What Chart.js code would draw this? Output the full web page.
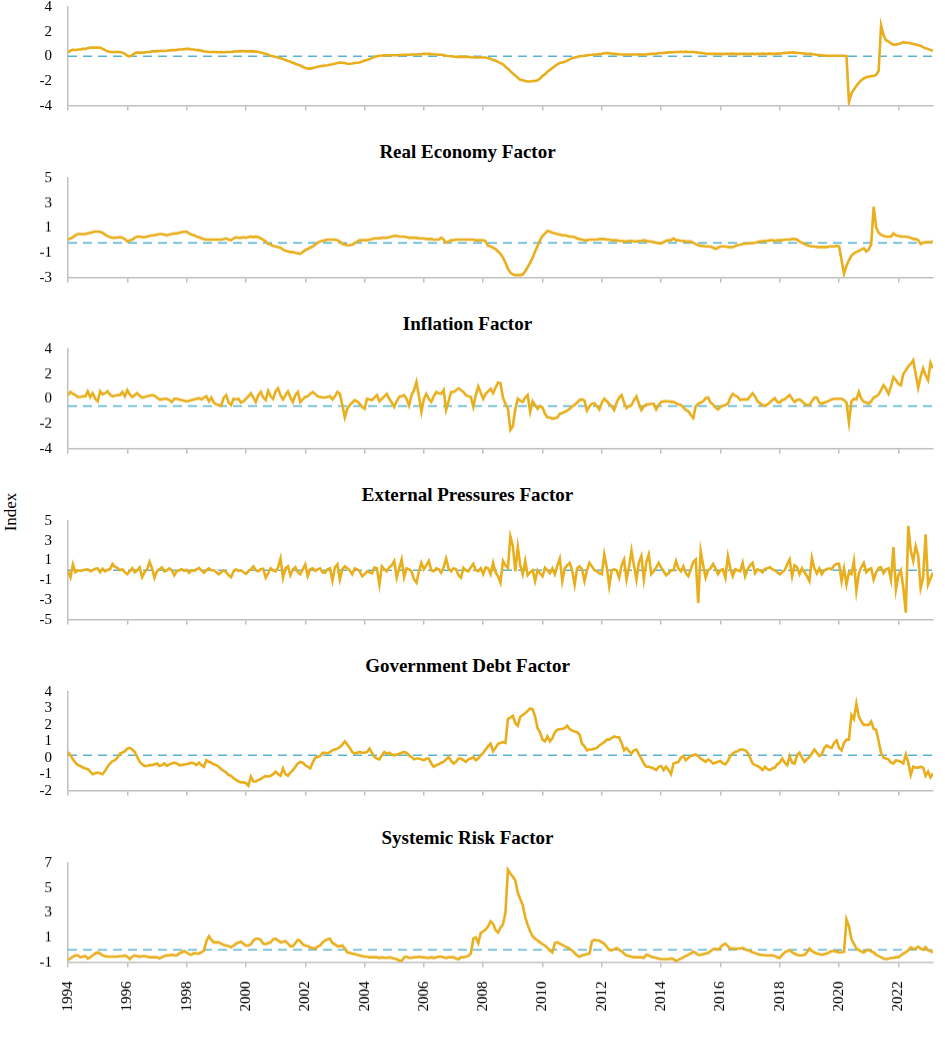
<!DOCTYPE html>
<html><head><meta charset="utf-8">
<script src="https://cdn.jsdelivr.net/npm/chart.js@4.4.1/dist/chart.umd.min.js"></script>
<style>
html,body{margin:0;padding:0;background:#fff;width:945px;height:1037px;overflow:hidden;position:relative;}
.panel{position:absolute;left:0;width:945px;}
.ptitle{position:absolute;left:0;width:935px;text-align:center;font:bold 19px "Liberation Serif","Times New Roman",serif;color:#000;line-height:22px;}
#ylab{position:absolute;left:11px;top:512px;transform:translate(-50%,-50%) rotate(-90deg);font:17px "Liberation Serif","Times New Roman",serif;color:#000;white-space:nowrap;}
</style></head><body>
<div id="ylab">Index</div>
<script>
const startYear = 1994;
const tickYears = [1994,1996,1998,2000,2002,2004,2006,2008,2010,2012,2014,2016,2018,2020,2022];
const panelTitles = ["", "Real Economy Factor", "Inflation Factor", "External Pressures Factor", "Government Debt Factor", "Systemic Risk Factor"];
const refLevels = [0, -0.22, -0.58, 0, 0.15, 0];
const yMin = [-4, -3, -4, -5, -2, -1];
const yMax = [4, 5, 4, 5, 4, 7];
const yStep = [2, 2, 2, 2, 1, 2];

const compositeIndex = [
0.35,0.45,0.55,0.5,0.55,0.55,0.6,0.6,0.65,0.7,0.7,0.7,
0.7,0.7,0.6,0.5,0.4,0.35,0.35,0.35,0.35,0.35,0.3,0.2,
0.05,0.0,0.1,0.25,0.3,0.3,0.3,0.3,0.35,0.35,0.4,0.4,
0.42,0.43,0.45,0.43,0.45,0.48,0.5,0.5,0.52,0.55,0.55,0.58,
0.6,0.6,0.55,0.55,0.5,0.5,0.45,0.4,0.38,0.35,0.35,0.35,
0.35,0.33,0.35,0.33,0.35,0.35,0.35,0.38,0.4,0.4,0.42,0.42,
0.4,0.4,0.42,0.4,0.38,0.35,0.3,0.25,0.2,0.12,0.05,0.0,
-0.05,-0.1,-0.15,-0.22,-0.3,-0.38,-0.45,-0.52,-0.6,-0.68,-0.75,-0.85,
-0.95,-1.0,-1.0,-0.95,-0.9,-0.85,-0.8,-0.78,-0.75,-0.72,-0.68,-0.65,
-0.6,-0.55,-0.5,-0.52,-0.55,-0.6,-0.6,-0.58,-0.55,-0.52,-0.5,-0.42,
-0.35,-0.3,-0.22,-0.15,-0.05,0.0,0.05,0.06,0.08,0.07,0.08,0.08,
0.08,0.08,0.1,0.1,0.12,0.12,0.13,0.15,0.15,0.15,0.17,0.18,
0.2,0.2,0.2,0.18,0.16,0.15,0.13,0.12,0.1,0.05,0.02,0.0,
-0.02,-0.05,-0.05,-0.05,-0.05,-0.05,-0.05,-0.08,-0.1,-0.1,-0.1,-0.1,
-0.1,-0.1,-0.15,-0.2,-0.3,-0.35,-0.45,-0.55,-0.65,-0.85,-1.0,-1.2,
-1.4,-1.55,-1.75,-1.9,-1.95,-2.0,-2.05,-2.05,-2.0,-2.0,-1.95,-1.8,
-1.6,-1.45,-1.25,-1.1,-0.95,-0.8,-0.65,-0.55,-0.5,-0.45,-0.35,-0.25,
-0.15,-0.1,-0.05,0.0,0.03,0.05,0.08,0.1,0.12,0.15,0.15,0.18,
0.2,0.25,0.27,0.25,0.22,0.2,0.18,0.16,0.15,0.15,0.15,0.15,
0.15,0.15,0.15,0.17,0.15,0.15,0.15,0.18,0.2,0.2,0.22,0.25,
0.27,0.28,0.3,0.32,0.32,0.33,0.35,0.35,0.36,0.35,0.38,0.35,
0.35,0.35,0.33,0.3,0.28,0.25,0.22,0.2,0.2,0.2,0.2,0.2,
0.2,0.18,0.2,0.2,0.2,0.22,0.2,0.18,0.2,0.2,0.2,0.18,
0.2,0.2,0.18,0.2,0.2,0.22,0.2,0.2,0.22,0.2,0.2,0.22,
0.22,0.25,0.28,0.28,0.3,0.3,0.3,0.28,0.27,0.25,0.22,0.2,
0.2,0.18,0.15,0.12,0.1,0.08,0.07,0.05,0.05,0.05,0.05,0.05,
0.05,0.05,0.05,0.02,-3.7,-3.0,-2.7,-2.4,-2.15,-1.95,-1.8,-1.7,
-1.65,-1.6,-1.6,-1.5,-1.2,2.5,1.7,1.3,1.2,1.05,0.95,0.95,
1.0,1.05,1.15,1.1,1.1,1.05,1.0,0.95,0.9,0.85,0.75,0.65,
0.6,0.5,0.45];

const realEconomy = [
0.05,0.15,0.25,0.4,0.5,0.5,0.5,0.5,0.55,0.6,0.65,0.7,
0.7,0.68,0.6,0.45,0.35,0.25,0.2,0.2,0.22,0.25,0.2,0.1,
-0.1,0.0,0.05,0.2,0.3,0.3,0.25,0.25,0.3,0.35,0.4,0.4,
0.45,0.5,0.5,0.45,0.4,0.45,0.5,0.55,0.55,0.6,0.65,0.68,
0.7,0.55,0.45,0.4,0.3,0.25,0.15,0.1,0.05,0.05,0.05,0.05,
0.05,0.05,0.05,0.1,0.15,0.05,0.0,0.15,0.25,0.2,0.2,0.25,
0.2,0.25,0.3,0.25,0.3,0.25,0.15,0.05,-0.1,-0.3,-0.35,-0.45,
-0.5,-0.55,-0.6,-0.75,-0.85,-0.9,-0.95,-0.95,-1.0,-1.05,-1.1,-0.95,
-0.8,-0.7,-0.6,-0.5,-0.35,-0.2,-0.1,-0.05,0.0,0.05,0.05,0.05,
0.05,0.0,-0.1,-0.3,-0.35,-0.4,-0.4,-0.35,-0.25,-0.1,0.0,0.0,
0.0,0.0,0.05,0.1,0.15,0.15,0.15,0.2,0.2,0.2,0.25,0.3,
0.35,0.35,0.3,0.3,0.3,0.25,0.2,0.2,0.2,0.2,0.15,0.15,
0.15,0.1,0.1,0.1,0.05,0.05,0.05,0.2,0.05,-0.2,-0.1,0.0,
0.0,0.05,0.05,0.05,0.05,0.05,0.05,0.05,0.05,0.0,0.0,0.0,
0.0,-0.1,-0.45,-0.5,-0.6,-0.7,-0.9,-1.1,-1.4,-1.8,-2.3,-2.6,
-2.75,-2.8,-2.8,-2.8,-2.75,-2.5,-2.15,-1.8,-1.4,-0.9,-0.45,0.0,
0.35,0.55,0.75,0.7,0.6,0.55,0.5,0.45,0.4,0.4,0.35,0.3,
0.3,0.25,0.15,0.1,0.05,0.0,0.0,0.05,0.05,0.05,0.05,0.1,
0.1,0.1,0.05,0.05,0.0,0.0,0.0,-0.05,-0.05,-0.1,-0.1,-0.05,
-0.05,-0.1,-0.1,-0.05,-0.05,0.0,-0.05,-0.1,-0.1,-0.15,-0.2,-0.25,
-0.25,-0.15,-0.05,0.0,0.0,0.15,0.0,0.0,-0.05,-0.05,-0.1,-0.1,
-0.1,-0.2,-0.3,-0.4,-0.45,-0.45,-0.5,-0.5,-0.5,-0.6,-0.7,-0.6,
-0.5,-0.5,-0.5,-0.55,-0.55,-0.55,-0.45,-0.4,-0.35,-0.3,-0.28,-0.25,
-0.25,-0.22,-0.2,-0.15,-0.1,-0.08,-0.05,-0.05,0.0,0.0,-0.05,0.0,
0.0,0.0,0.05,0.05,0.05,0.1,0.1,0.05,-0.1,-0.2,-0.3,-0.4,
-0.45,-0.5,-0.5,-0.55,-0.55,-0.55,-0.55,-0.55,-0.5,-0.5,-0.5,-0.45,
-0.5,-1.6,-2.7,-2.05,-1.6,-1.25,-1.05,-0.95,-0.85,-0.75,-0.65,-0.9,
-0.75,-0.3,2.7,1.05,0.6,0.45,0.35,0.3,0.3,0.3,0.55,0.4,
0.35,0.3,0.3,0.3,0.25,0.2,0.1,0.1,0.0,-0.3,-0.2,-0.15,
-0.15,-0.15,-0.1];

const inflation = [
0.3,0.55,0.4,0.3,0.15,0.15,0.2,0.2,0.6,0.15,0.45,0.0,
-0.2,0.6,0.35,0.45,0.6,0.35,0.2,0.25,0.3,0.3,0.55,0.2,
0.7,0.35,0.15,0.3,0.45,0.25,0.1,0.15,0.2,0.25,0.3,0.25,
0.1,-0.05,-0.05,0.0,0.0,-0.1,-0.25,0.0,0.0,-0.05,-0.1,-0.15,
-0.2,-0.15,-0.1,-0.05,0.0,0.05,-0.05,0.1,0.2,-0.2,0.1,-0.3,
-0.45,-0.5,-0.55,0.1,0.3,-0.3,-0.5,0.0,-0.05,0.0,-0.3,-0.2,
0.0,0.2,0.45,0.1,-0.25,0.3,0.55,0.1,-0.1,0.65,0.2,0.0,
0.6,0.85,0.3,-0.05,0.3,0.6,0.1,-0.25,0.3,0.55,-0.25,-0.05,
0.15,0.2,0.4,0.55,0.4,0.2,0.15,0.1,0.1,0.15,0.2,-0.05,
0.2,0.55,0.4,-0.5,-1.5,-0.8,-0.5,-0.3,-0.1,-0.2,-0.4,-0.65,
-0.8,0.0,-0.05,-0.1,0.1,0.3,-0.2,0.0,0.2,0.4,0.0,-0.3,
-0.65,-0.2,0.15,0.2,0.3,0.0,-0.55,0.3,0.7,1.35,0.2,-1.05,
0.0,0.4,0.0,-0.25,0.2,0.55,0.45,0.4,0.7,-0.9,-0.2,0.55,
0.55,0.7,0.85,0.7,0.55,0.3,0.2,0.15,-0.65,0.3,1.0,0.5,
0.0,0.4,0.6,0.8,0.45,0.9,1.3,1.25,0.1,-0.4,-0.8,-2.5,
-2.2,-0.8,0.0,-0.15,-0.25,0.1,0.3,-1.05,-0.2,-0.5,-0.8,-0.6,
-0.7,-1.2,-1.5,-1.5,-1.6,-1.55,-1.5,-1.2,-1.15,-1.05,-0.95,-0.8,
-0.6,-0.5,-0.3,-0.1,-0.05,-0.15,-0.95,-0.6,-0.4,-0.35,-0.6,-0.85,
-0.3,0.0,-0.2,-0.4,-0.6,-0.9,-0.3,0.1,0.3,-0.3,-0.75,-0.6,
-0.5,-0.1,0.2,-0.4,-0.9,-0.6,-0.45,-0.45,-0.4,-0.4,-0.85,-0.5,
-0.25,-0.2,-0.2,-0.2,-0.25,-0.25,-0.35,-0.45,-0.5,-0.7,-0.9,-1.0,
-1.3,-1.55,-0.6,-0.4,-0.3,-0.2,0.05,0.1,-0.3,-0.45,-0.7,-0.85,
-0.65,-0.55,-0.5,-0.4,0.1,0.4,0.25,0.15,-0.1,-0.05,-0.05,-0.05,
0.2,0.45,0.2,-0.2,-0.35,-0.5,-0.55,-0.45,-0.3,-0.1,0.05,-0.25,
-0.3,-0.1,-0.05,0.15,0.3,0.0,-0.25,-0.1,-0.05,-0.2,-0.4,-0.5,
-0.5,-0.2,0.1,0.1,-0.3,-0.4,-0.3,-0.25,-0.15,-0.05,0.0,0.0,
0.0,0.0,-0.1,-0.3,-1.9,-0.2,0.0,-0.05,0.55,0.0,-0.25,-0.3,
-0.4,-0.2,0.1,0.2,0.35,0.7,1.1,0.8,0.4,1.0,1.75,1.5,
1.2,1.1,2.0,2.3,2.6,2.8,3.1,2.0,0.9,1.8,2.45,1.9,
1.5,2.9,2.45];

const externalPressures = [
-0.1,-0.7,0.6,-0.2,0.0,-0.05,0.0,0.05,0.1,-0.1,0.0,0.15,
0.2,-0.2,0.15,-0.1,0.05,0.1,0.65,0.35,0.25,0.0,0.1,-0.2,
-0.4,-0.1,0.2,-0.2,0.0,0.3,-0.7,-0.2,0.1,0.85,0.2,-0.75,
-0.1,0.1,0.3,-0.1,0.0,0.2,0.0,-0.5,-0.1,0.0,0.1,-0.05,
0.05,-0.25,0.0,-0.05,0.1,0.25,0.0,-0.25,0.0,0.2,0.0,0.0,
-0.2,-0.4,-0.2,0.0,-0.2,-0.5,-0.7,-0.1,0.1,-0.05,0.0,-0.2,
-0.35,-0.1,0.1,0.4,0.0,-0.1,0.1,0.15,-0.75,-0.3,0.2,0.0,
-0.1,0.3,1.2,-0.75,0.2,0.4,-0.5,0.1,0.3,-0.2,-0.4,0.1,
0.6,-0.6,0.1,0.2,-0.05,0.1,0.2,-0.2,-0.25,0.1,0.2,-1.05,
0.3,0.6,-0.95,0.1,0.4,0.2,0.0,-0.4,0.2,0.1,-0.1,-0.6,
-0.4,-0.1,-0.2,-0.3,0.3,0.2,-1.45,0.4,0.1,-0.1,0.3,0.5,
0.95,-0.75,0.2,1.1,-0.7,0.2,0.1,-0.1,-0.9,-1.25,-0.1,0.75,
0.1,0.5,0.95,0.0,-0.1,0.2,0.1,-0.25,0.3,1.2,0.2,-0.1,
0.2,0.1,-0.5,-0.75,0.25,0.0,-0.1,0.3,0.65,0.0,-0.1,0.2,
-0.4,0.3,0.2,-0.4,0.75,-0.2,-0.6,-1.25,0.95,0.5,0.2,3.45,
2.5,-0.1,2.35,0.5,-0.4,0.95,-0.5,-0.2,0.0,-1.1,0.0,-0.3,
-0.6,0.25,0.0,-0.3,0.2,-0.4,0.5,1.2,-1.1,0.2,0.5,0.75,
0.0,-1.45,0.2,0.4,0.1,-1.1,0.0,0.75,0.4,0.0,-0.1,-0.3,
-0.4,1.6,0.3,-1.6,0.0,0.1,0.0,-0.75,0.5,1.1,-0.95,0.3,
2.0,0.5,-0.95,0.8,1.45,-0.95,0.8,1.6,-0.4,-0.1,0.3,0.75,
0.3,-0.1,-0.5,-0.3,0.0,0.0,0.95,0.2,-0.1,0.4,-0.3,-0.6,
0.1,0.85,1.1,-3.3,1.95,0.5,-0.75,0.0,0.2,0.65,0.2,-0.4,
0.0,0.1,-0.75,1.45,0.2,-0.6,0.1,0.0,-0.1,0.75,-0.6,0.1,
0.5,0.75,-0.3,0.1,0.0,-0.2,0.15,0.2,0.3,0.1,0.0,-0.2,
-0.4,-0.2,0.0,0.6,1.1,-0.6,0.5,0.3,-0.4,0.2,-0.2,-0.6,
-1.1,1.25,0.2,-0.3,0.2,-0.4,0.0,0.1,0.2,0.1,0.5,0.65,
0.65,-1.1,0.2,-1.45,-0.2,-0.4,0.95,-2.1,-0.3,0.3,0.75,-0.2,
0.1,0.2,-0.95,-0.2,0.25,0.3,-0.3,0.1,0.2,-0.95,2.35,-1.95,
-0.5,0.0,-1.8,-4.3,4.5,2.0,0.95,2.45,1.5,-1.8,-0.75,3.65,
-1.45,-0.8,-0.25];

const governmentDebt = [
0.35,0.15,-0.1,-0.3,-0.45,-0.5,-0.6,-0.65,-0.7,-0.85,-1.0,-0.95,
-0.9,-0.95,-1.0,-0.8,-0.55,-0.35,-0.2,-0.15,0.0,0.25,0.3,0.4,
0.55,0.6,0.5,0.35,0.05,-0.25,-0.4,-0.5,-0.5,-0.45,-0.45,-0.4,
-0.35,-0.5,-0.45,-0.35,-0.5,-0.4,-0.35,-0.3,-0.35,-0.45,-0.45,-0.4,
-0.4,-0.35,-0.3,-0.35,-0.45,-0.3,-0.45,-0.55,-0.15,-0.25,-0.3,-0.4,
-0.45,-0.55,-0.7,-0.8,-0.9,-1.05,-1.1,-1.25,-1.35,-1.45,-1.5,-1.5,
-1.55,-1.7,-1.15,-1.45,-1.45,-1.35,-1.3,-1.2,-1.1,-1.15,-1.1,-1.0,
-0.85,-1.0,-1.1,-0.65,-1.0,-1.1,-0.9,-0.75,-0.55,-0.35,-0.25,-0.3,
-0.45,-0.55,-0.65,-0.3,0.0,0.05,0.1,0.3,0.3,0.25,0.35,0.45,
0.5,0.55,0.65,0.8,1.0,0.8,0.6,0.35,0.25,0.3,0.35,0.3,
0.3,0.35,0.55,0.3,0.05,-0.05,-0.1,0.15,0.35,0.25,0.3,0.2,
0.15,0.2,0.25,0.3,0.35,0.3,0.15,0.05,-0.1,-0.05,-0.05,-0.1,
-0.15,-0.05,-0.05,-0.35,-0.55,-0.45,-0.4,-0.3,-0.25,-0.1,0.05,-0.2,
-0.35,-0.25,-0.05,-0.05,-0.15,-0.25,-0.1,-0.05,0.05,-0.15,-0.05,0.15,
0.3,0.5,0.7,0.85,0.4,0.6,0.85,0.9,0.95,0.9,2.35,2.45,
2.55,2.1,1.95,2.5,2.6,2.7,2.85,3.0,2.95,2.5,1.8,1.55,
1.1,1.0,1.3,1.0,1.2,1.55,1.7,1.75,1.75,1.8,1.95,1.75,
1.65,1.6,1.55,1.4,0.85,0.7,0.45,0.5,0.5,0.55,0.6,0.75,
0.85,0.95,1.1,1.1,1.2,1.3,1.25,1.25,0.9,0.45,0.6,0.4,
0.25,0.45,0.5,0.2,-0.05,-0.35,-0.55,-0.55,-0.6,-0.65,-0.75,-0.55,
-0.5,-0.75,-0.55,-0.75,-1.0,-0.35,-0.3,-0.25,0.0,0.1,-0.15,0.0,
0.1,0.15,0.2,0.1,-0.05,-0.15,-0.25,-0.1,-0.2,-0.35,-0.3,-0.25,
-0.2,-0.35,-0.4,-0.2,0.1,0.25,0.35,0.4,0.5,0.5,0.45,0.3,
0.0,-0.35,-0.45,-0.5,-0.6,-0.75,-0.55,-0.7,-0.75,-0.65,-0.6,-0.4,
-0.3,-0.05,-0.3,-0.45,0.1,-0.3,-0.35,0.15,0.3,0.0,-0.25,-0.1,
0.05,0.25,0.5,0.3,0.1,0.2,0.6,0.75,0.65,0.6,0.9,1.05,
0.6,0.45,0.9,1.1,1.1,2.6,2.35,3.3,2.5,2.2,2.0,2.0,
2.0,2.2,1.75,1.7,1.0,0.3,0.0,-0.05,-0.1,-0.3,-0.35,-0.15,
-0.2,-0.25,-0.35,0.2,-0.3,-1.05,-0.55,-0.6,-0.6,-0.55,-0.6,-1.1,
-0.85,-1.2,-0.95];

const systemicRisk = [
-0.8,-0.7,-0.55,-0.45,-0.45,-0.6,-0.55,-0.5,-0.7,-0.6,-0.45,-0.3,
-0.2,-0.3,-0.45,-0.5,-0.55,-0.55,-0.55,-0.55,-0.55,-0.5,-0.5,-0.45,
-0.55,-0.75,-0.55,-0.45,-0.5,-0.55,-0.5,-0.5,-0.55,-0.6,-0.6,-0.6,
-0.6,-0.7,-0.6,-0.5,-0.45,-0.45,-0.4,-0.45,-0.45,-0.3,-0.2,-0.1,
-0.2,-0.35,-0.4,-0.25,-0.3,-0.3,-0.2,-0.05,0.7,1.1,0.8,0.6,
0.6,0.6,0.5,0.4,0.35,0.3,0.2,0.35,0.5,0.6,0.65,0.5,
0.35,0.35,0.45,0.75,0.9,0.9,0.8,0.5,0.45,0.55,0.6,0.85,
0.9,0.75,0.6,0.65,0.7,0.5,0.3,0.3,0.55,0.8,0.7,0.45,
0.35,0.3,0.2,0.15,0.1,0.25,0.35,0.6,0.75,0.85,0.9,0.55,
0.45,0.3,0.3,0.35,0.1,-0.2,-0.25,-0.3,-0.35,-0.4,-0.45,-0.5,
-0.55,-0.55,-0.6,-0.6,-0.6,-0.6,-0.65,-0.6,-0.65,-0.65,-0.6,-0.65,
-0.7,-0.75,-0.85,-0.9,-0.6,-0.55,-0.65,-0.65,-0.6,-0.6,-0.55,-0.6,
-0.6,-0.65,-0.65,-0.6,-0.65,-0.6,-0.55,-0.55,-0.6,-0.65,-0.6,-0.6,
-0.6,-0.7,-0.75,-0.6,-0.6,-0.55,-0.5,-0.3,0.9,1.0,0.55,1.35,
1.5,1.65,1.9,2.3,2.1,1.6,1.4,1.8,2.05,3.0,6.45,6.15,
5.9,5.6,4.6,4.1,3.6,2.65,2.0,1.5,1.1,0.9,0.75,0.6,
0.45,0.35,0.15,-0.05,-0.2,0.55,0.6,0.5,0.4,0.3,0.2,0.1,
-0.05,-0.25,-0.45,-0.55,-0.45,-0.4,-0.35,-0.3,0.7,0.8,0.75,0.75,
0.6,0.5,0.25,0.0,-0.05,0.05,0.15,0.0,-0.1,-0.3,-0.45,-0.5,
-0.55,-0.6,-0.6,-0.6,-0.6,-0.65,-0.4,-0.45,-0.55,-0.6,-0.65,-0.7,
-0.75,-0.75,-0.75,-0.75,-0.7,-0.75,-0.9,-0.8,-0.7,-0.6,-0.5,-0.4,
-0.3,-0.15,-0.25,-0.4,-0.4,-0.35,-0.3,-0.25,-0.1,0.05,0.1,0.0,
0.2,0.4,0.5,0.3,0.1,0.1,0.1,0.1,0.1,0.15,0.05,-0.05,
-0.1,-0.2,-0.25,-0.35,-0.4,-0.4,-0.45,-0.45,-0.45,-0.45,-0.5,-0.6,
-0.65,-0.4,-0.2,-0.1,-0.05,-0.2,-0.3,-0.4,-0.45,-0.45,-0.4,-0.2,
0.1,-0.1,-0.2,-0.3,-0.35,-0.4,-0.35,-0.3,-0.2,-0.1,-0.1,-0.15,
-0.2,-0.2,-0.15,2.45,1.9,0.85,0.5,0.1,0.0,-0.15,-0.2,-0.05,
0.0,-0.15,-0.2,-0.4,-0.5,-0.6,-0.7,-0.75,-0.7,-0.65,-0.65,-0.6,
-0.6,-0.45,-0.3,-0.2,-0.05,0.2,0.1,0.1,0.25,0.1,0.0,0.2,
-0.05,-0.1,-0.2];

const seriesList = [compositeIndex, realEconomy, inflation, externalPressures, governmentDebt, systemicRisk];

const GOLD = '#E9AE1C';
const BLUE = '#58B4D0';
const AXIS = '#BFBFBF';
const SERIF = '"Liberation Serif", "Times New Roman", serif';
const PANEL_TOP0 = 6.7, PANEL_GAP = 171.3, PLOT_H = 98.6, PAD_TOP = 12;

seriesList.forEach((vals, i) => {
  const isLast = i === seriesList.length - 1;
  const xH = isLast ? 70 : 12;
  const top = PANEL_TOP0 + PANEL_GAP * i;
  const div = document.createElement('div');
  div.className = 'panel';
  div.style.top = (top - PAD_TOP) + 'px';
  div.style.height = (PAD_TOP + PLOT_H + xH) + 'px';
  const cv = document.createElement('canvas');
  div.appendChild(cv);
  document.body.appendChild(div);
  if (panelTitles[i]) {
    const t = document.createElement('div');
    t.className = 'ptitle';
    t.textContent = panelTitles[i];
    t.style.top = (top - 25.6 - 11) + 'px';
    document.body.appendChild(t);
  }
  const pts = vals.map((v, k) => ({x: startYear + k / 12, y: v}));
  const xEnd = startYear + (vals.length - 1) / 12;
  new Chart(cv, {
    type: 'line',
    data: {datasets: [
      {data: pts, borderColor: GOLD, borderWidth: 2.6, pointRadius: 0, tension: 0, order: 1, fill: false},
      {data: [{x: startYear, y: refLevels[i]}, {x: xEnd, y: refLevels[i]}], borderColor: BLUE, borderWidth: 1.5, borderDash: [9, 6], pointRadius: 0, order: 2, fill: false}
    ]},
    options: {
      responsive: true, maintainAspectRatio: false, animation: false,
      layout: {padding: {top: PAD_TOP, left: 0, right: 12, bottom: 0}},
      plugins: {legend: {display: false}, tooltip: {enabled: false}},
      scales: {
        x: {
          type: 'linear', min: startYear, max: xEnd,
          afterBuildTicks: s => { s.ticks = tickYears.map(v => ({value: v})); },
          afterFit: s => { s.height = xH; s.paddingLeft = 0; s.paddingRight = 0; },
          grid: {display: true, drawOnChartArea: false, drawTicks: true, tickLength: 5, color: AXIS, lineWidth: 1.5},
          border: {display: true, color: AXIS, width: 1.5},
          ticks: {display: isLast, autoSkip: false, minRotation: 90, maxRotation: 90, padding: 14,
                  font: {family: SERIF, size: 15}, color: '#000', callback: v => String(v)}
        },
        y: {
          min: yMin[i], max: yMax[i],
          afterFit: s => { s.width = 68; s.paddingTop = 0; s.paddingBottom = 0; },
          grid: {display: false, drawTicks: false},
          border: {display: true, color: AXIS, width: 1.5},
          ticks: {stepSize: yStep[i], autoSkip: false, padding: 16, font: {family: SERIF, size: 15}, color: '#000', callback: v => String(v)}
        }
      }
    }
  });
});
</script>
</body></html>
